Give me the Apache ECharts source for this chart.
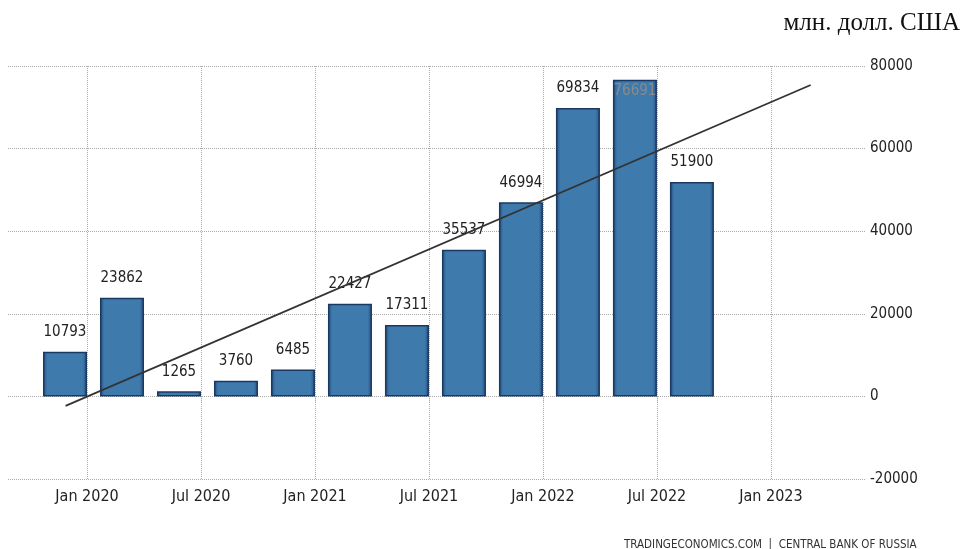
<!DOCTYPE html>
<html>
<head>
<meta charset="utf-8">
<script src="https://cdn.jsdelivr.net/npm/echarts@6/dist/echarts.min.js"></script>
<style>
html,body{margin:0;padding:0;background:#fff;}
#c{width:970px;height:549px;}
</style>
</head>
<body>
<div id="c"></div>
<script>
// Quarter-end positions, in months counted from Jan 2020
var quarters = ['Q4 2019','Q1 2020','Q2 2020','Q3 2020','Q4 2020','Q1 2021','Q2 2021','Q3 2021','Q4 2021','Q1 2022','Q2 2022','Q3 2022'];
var quarterEndMonths = [0, 3, 6, 9, 12, 15, 18, 21, 24, 27, 30, 33];
var values = [10793, 23862, 1265, 3760, 6485, 22427, 17311, 35537, 46994, 69834, 76691, 51900];
// Trend line (months from Jan 2020, value)
var trendMonths = [-1.13, 38.09];
var trendValues = [-2300, 75400];
var tickMonths = [0, 6, 12, 18, 24, 30, 36];
var tickLabels = ['Jan 2020','Jul 2020','Jan 2021','Jul 2021','Jan 2022','Jul 2022','Jan 2023'];
var yTicks = [-20000, 0, 20000, 40000, 60000, 80000];

var BAR_SHIFT = -1.16; // bars sit just left of their quarter-end date
var FONT = '"Liberation Sans Narrow","DejaVu Sans Condensed",sans-serif';

var chart = echarts.init(document.getElementById('c'));
var barData = values.map(function(v, i){
  var d = {value: [quarterEndMonths[i] + BAR_SHIFT, v]};
  if (v === 76691) {
    d.label = {position: 'insideTop', distance: 4, color: '#8a8a8a'};
  }
  return d;
});
var trendData = trendValues.map(function(v, i){
  return [trendMonths[i], v];
});

chart.setOption({
  animation: false,
  grid: {left: 8, right: 105, top: 66, bottom: 70, containLabel: false},
  title: [{
    text: 'млн. долл. США', right: 5, top: 6,
    textStyle: {fontFamily: '"Liberation Serif","Times New Roman",serif', fontSize: 25, fontWeight: 'normal', color: '#111'}
  }, {
    text: 'TRADINGECONOMICS.COM  |  CENTRAL BANK OF RUSSIA', left: 619, top: 534,
    textStyle: {fontFamily: FONT, fontSize: 11.5, fontWeight: 'normal', color: '#333'}
  }],
  xAxis: {
    type: 'value', min: -4.16, max: 40.95,
    axisLine: {show: false},
    axisTick: {show: true, length: 5, customValues: tickMonths, lineStyle: {color: '#aaa', type: 'dotted'}},
    axisLabel: {
      customValues: tickMonths, margin: 10,
      fontFamily: FONT, fontSize: 16, color: '#222',
      formatter: function(v){ var i = tickMonths.indexOf(Math.round(v)); return i >= 0 ? tickLabels[i] : ''; }
    },
    splitLine: {show: true, lineStyle: {color: '#aaa', type: 'dotted', width: 1}}
  },
  yAxis: {
    type: 'value', position: 'right', min: yTicks[0], max: yTicks[yTicks.length-1], interval: 20000,
    axisLine: {show: false}, axisTick: {show: false},
    axisLabel: {margin: 5, fontFamily: FONT, fontSize: 15, color: '#222', formatter: function(v){ return String(v); }},
    splitLine: {show: true, lineStyle: {color: '#aaa', type: 'dotted', width: 1}}
  },
  series: [{
    type: 'bar', data: barData, barWidth: 44,
    itemStyle: {
      color: new echarts.graphic.LinearGradient(0, 0, 1, 0, [
        {offset: 0, color: '#24507f'}, {offset: 0.1, color: '#3f7aac'},
        {offset: 0.9, color: '#3f7aac'}, {offset: 1, color: '#24507f'}
      ]),
      borderColor: '#1b3862', borderWidth: 1.5
    },
    label: {show: true, position: 'top', distance: 12, fontFamily: FONT, fontSize: 15, color: '#222',
      formatter: function(p){ return p.value[1]; }}
  }, {
    type: 'line', data: trendData, symbol: 'none',
    lineStyle: {color: '#333', width: 1.8}, z: 5
  }]
});
</script>
</body>
</html>
